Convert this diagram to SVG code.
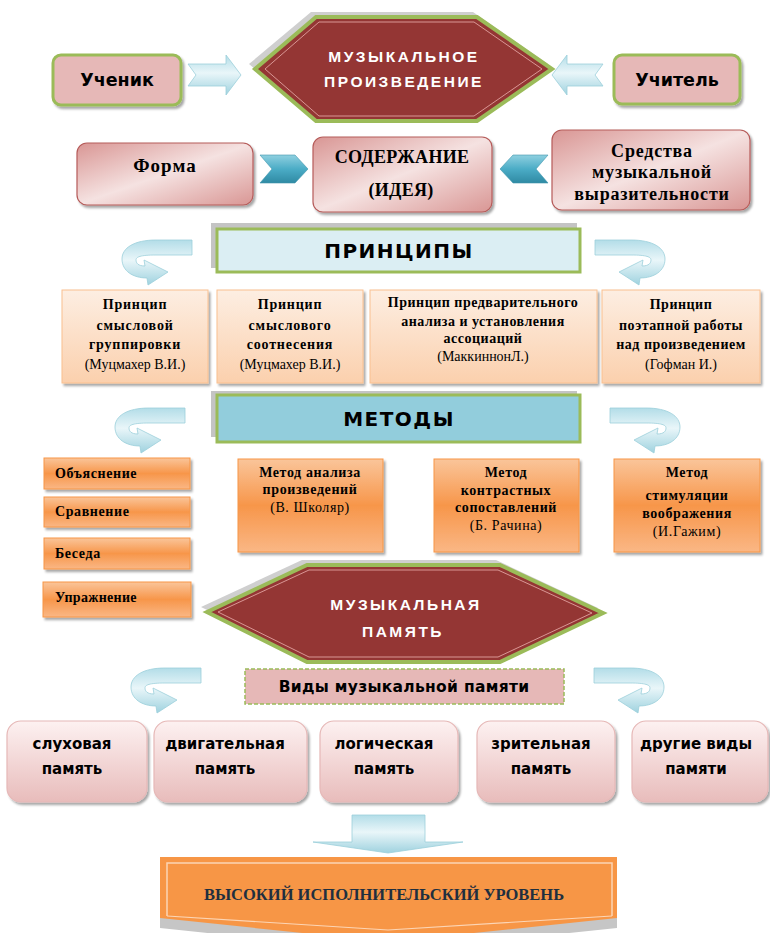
<svg xmlns="http://www.w3.org/2000/svg" width="770" height="933" viewBox="0 0 770 933">
<defs>
<style>
.sans{font-family:"DejaVu Sans","Liberation Sans",sans-serif;font-weight:bold;fill:#000}
.serif{font-family:"Liberation Serif","Times New Roman","DejaVu Serif",serif;fill:#000}
.b{font-weight:bold}
.mid{text-anchor:middle}
.hex{fill:#943634;stroke:#9bbb59;stroke-width:4;stroke-linejoin:miter}
.hexin{fill:none;stroke:#d99694;stroke-width:1}
.hexsh{fill:#cfcfcf}
.hextxt{font-family:"Liberation Sans","DejaVu Sans",sans-serif;font-weight:bold;font-size:15.5px;fill:#fff;letter-spacing:2.5px;text-anchor:middle}
.person{fill:#e6b8b7;stroke:#9bbb59;stroke-width:3}
.row2{fill:url(#gPink);stroke:#b65c5a;stroke-width:1.2}
.princ{fill:url(#gPeach);stroke:#fac090;stroke-width:1}
.meth{fill:url(#gOrange);stroke:#f79646;stroke-width:1}
.mem{fill:url(#gMem);stroke:#e6b8b7;stroke-width:1.2}
.carrow{fill:url(#gCurve);stroke:#9ccfdb;stroke-width:0.8}
.barrow{fill:url(#gCurve);stroke:#9ccfdb;stroke-width:0.8}
.chev{fill:url(#gTeal);stroke:#3f96ad;stroke-width:0.6}
</style>
<linearGradient id="gPink" x1="0" y1="0" x2="1" y2="1">
<stop offset="0" stop-color="#d99694"/><stop offset="0.5" stop-color="#f5e2e1"/><stop offset="1" stop-color="#d99694"/>
</linearGradient>
<linearGradient id="gPeach" x1="0" y1="0" x2="0" y2="1">
<stop offset="0" stop-color="#fdeee2"/><stop offset="1" stop-color="#fbd0ad"/>
</linearGradient>
<linearGradient id="gOrange" x1="0" y1="0" x2="0" y2="1">
<stop offset="0" stop-color="#fac59a"/><stop offset="0.5" stop-color="#f7964a"/><stop offset="1" stop-color="#fab785"/>
</linearGradient>
<linearGradient id="gMem" x1="0" y1="0" x2="0" y2="1">
<stop offset="0" stop-color="#fdf1f1"/><stop offset="1" stop-color="#e8bcbb"/>
</linearGradient>
<linearGradient id="gCurve" x1="0" y1="0" x2="0" y2="1">
<stop offset="0" stop-color="#b3dde8"/><stop offset="0.45" stop-color="#e9f6f9"/><stop offset="1" stop-color="#9fd2df"/>
</linearGradient>
<linearGradient id="gTeal" x1="0" y1="0" x2="0" y2="1">
<stop offset="0" stop-color="#8fd0e0"/><stop offset="0.5" stop-color="#4bacc6"/><stop offset="1" stop-color="#2f8aa3"/>
</linearGradient>
<filter id="sh" x="-10%" y="-10%" width="130%" height="140%">
<feDropShadow dx="2" dy="2.5" stdDeviation="1.3" flood-color="#000" flood-opacity="0.35"/>
</filter>
<path id="curve" d="M70,0 L34,0 C12,0 0,8 0,19 C0,31 11,38 25,38 L26,45 L46,32 L22,20 L23,26 C16,26 14,23 14,20 C14,17 18,15 34,15 L70,15 Z"/>
</defs>

<rect width="770" height="933" fill="#fff"/>

<g id="connectors">
<polygon class="barrow" points="188,64 226,64 226,55 241,75 226,95 226,86 188,86 196,75"/>
<polygon class="barrow" points="603,64 567,64 567,55 552,75 567,95 567,86 603,86 595,75"/>
<polygon class="chev" points="260,155 295,155 308,169 295,183 260,183 272,169"/>
<polygon class="chev" points="548,155 513,155 500,169 513,183 548,183 536,169"/>
<use href="#curve" class="carrow" transform="translate(122,240)"/>
<use href="#curve" class="carrow" transform="translate(665,240) scale(-1,1)"/>
<use href="#curve" class="carrow" transform="translate(115,408)"/>
<use href="#curve" class="carrow" transform="translate(680,408) scale(-1,1)"/>
<use href="#curve" class="carrow" transform="translate(131,668)"/>
<use href="#curve" class="carrow" transform="translate(664,668) scale(-1,1)"/>
<polygon class="barrow" points="352,815 425,815 425,842 463,842 388,853 313,842 352,842"/>
</g>

<g id="musical-work">
<polygon class="hexsh" points="249,64 311,12 473,12 548,64 473,117 311,117"/>
<polygon class="hex" points="255,69 316,17 477,17 552,69 477,121 316,121"/>
<polygon class="hexin" points="265,69 319,22 474,22 542,69 474,116 319,116"/>
<text class="hextxt" x="404" y="62">МУЗЫКАЛЬНОЕ</text>
<text class="hextxt" x="404" y="87">ПРОИЗВЕДЕНИЕ</text>
</g>

<g id="student">
<rect class="person" x="53" y="55" width="128" height="50" rx="8" filter="url(#sh)"/>
<text class="sans mid" x="117" y="86" font-size="17.5">Ученик</text>
</g>

<g id="teacher">
<rect class="person" x="614" y="55" width="126" height="49" rx="8" filter="url(#sh)"/>
<text class="sans mid" x="677" y="86" font-size="17.5">Учитель</text>
</g>

<g id="form">
<rect class="row2" x="77" y="143" width="176" height="62" rx="10" filter="url(#sh)"/>
<text class="serif b mid" font-family="Liberation Serif, serif" x="165" y="172" font-size="19" letter-spacing="1">Форма</text>
</g>

<g id="content">
<rect class="row2" x="313" y="137" width="179" height="75" rx="10" filter="url(#sh)"/>
<text class="serif b mid" x="402" y="163" font-size="18" letter-spacing="0.3">СОДЕРЖАНИЕ</text>
<text class="serif b mid" x="401" y="196" font-size="18" letter-spacing="0.3">(ИДЕЯ)</text>
</g>

<g id="means">
<rect class="row2" x="552" y="130" width="198" height="80" rx="10" filter="url(#sh)"/>
<text class="serif b mid" x="652" y="157" font-size="18" letter-spacing="0.8">Средства</text>
<text class="serif b mid" x="652" y="178" font-size="18" letter-spacing="0.8">музыкальной</text>
<text class="serif b mid" x="652" y="200" font-size="18" letter-spacing="0.8">выразительности</text>
</g>

<g id="principles">
<rect x="211" y="223" width="366" height="45" fill="#c4c4c4"/>
<rect x="217" y="229" width="363" height="43" fill="#dbeef3" stroke="#9bbb59" stroke-width="3"/>
<text class="sans mid" x="399" y="258" font-size="20" letter-spacing="1.5">ПРИНЦИПЫ</text>
</g>

<g id="principle-1">
<rect class="princ" x="62" y="290" width="146" height="93" filter="url(#sh)"/>
<text class="serif b mid" x="135" y="309" font-size="14" letter-spacing="0.8">Принцип</text>
<text class="serif b mid" x="135" y="330" font-size="14" letter-spacing="0.8">смысловой</text>
<text class="serif b mid" x="135" y="349" font-size="14" letter-spacing="0.8">группировки</text>
<text class="serif mid" x="135" y="369" font-size="14">(Муцмахер В.И.)</text>
</g>

<g id="principle-2">
<rect class="princ" x="217" y="290" width="146" height="93" filter="url(#sh)"/>
<text class="serif b mid" x="290" y="309" font-size="14" letter-spacing="0.8">Принцип</text>
<text class="serif b mid" x="290" y="330" font-size="14" letter-spacing="0.8">смыслового</text>
<text class="serif b mid" x="290" y="349" font-size="14" letter-spacing="0.8">соотнесения</text>
<text class="serif mid" x="290" y="369" font-size="14">(Муцмахер В.И.)</text>
</g>

<g id="principle-3">
<rect class="princ" x="370" y="290" width="227" height="93" filter="url(#sh)"/>
<text class="serif b mid" x="483" y="307" font-size="14" letter-spacing="0.5">Принцип предварительного</text>
<text class="serif b mid" x="483" y="326" font-size="14" letter-spacing="0.5">анализа и установления</text>
<text class="serif b mid" x="483" y="343" font-size="14" letter-spacing="0.5">ассоциаций</text>
<text class="serif mid" x="483" y="361" font-size="14">(МаккиннонЛ.)</text>
</g>

<g id="principle-4">
<rect class="princ" x="602" y="290" width="158" height="93" filter="url(#sh)"/>
<text class="serif b mid" x="681" y="309" font-size="14" letter-spacing="0.5">Принцип</text>
<text class="serif b mid" x="681" y="330" font-size="14" letter-spacing="0.5">поэтапной работы</text>
<text class="serif b mid" x="681" y="349" font-size="14" letter-spacing="0.5">над произведением</text>
<text class="serif mid" x="681" y="369" font-size="14">(Гофман И.)</text>
</g>

<g id="methods">
<rect x="211" y="391" width="366" height="46" fill="#c4c4c4"/>
<rect x="217" y="395" width="363" height="47" fill="#92cddc" stroke="#9bbb59" stroke-width="3"/>
<text class="sans mid" x="399" y="426" font-size="20" letter-spacing="1.5">МЕТОДЫ</text>
</g>

<g id="explanation">
<rect class="meth" x="44" y="458" width="146" height="31" filter="url(#sh)"/>
<text class="serif b" x="55" y="478" font-size="14" letter-spacing="0.6">Объяснение</text>
</g>
<g id="comparison">
<rect class="meth" x="44" y="497" width="146" height="30" filter="url(#sh)"/>
<text class="serif b" x="55" y="516" font-size="14" letter-spacing="0.6">Сравнение</text>
</g>
<g id="conversation">
<rect class="meth" x="44" y="538" width="146" height="31" filter="url(#sh)"/>
<text class="serif b" x="55" y="558" font-size="14" letter-spacing="0.6">Беседа</text>
</g>
<g id="exercise">
<rect class="meth" x="43" y="582" width="148" height="35" stroke="#953735" stroke-width="1.5" filter="url(#sh)"/>
<text class="serif b" x="55" y="602" font-size="14" letter-spacing="0.3">Упражнение</text>
</g>

<g id="method-analysis">
<rect class="meth" x="238" y="459" width="145" height="93" filter="url(#sh)"/>
<text class="serif b mid" x="310" y="477" font-size="14" letter-spacing="0.6">Метод анализа</text>
<text class="serif b mid" x="310" y="494" font-size="14" letter-spacing="0.6">произведений</text>
<text class="serif mid" x="310" y="512" font-size="14" letter-spacing="0.6">(В. Школяр)</text>
</g>

<g id="method-contrast">
<rect class="meth" x="434" y="459" width="145" height="93" filter="url(#sh)"/>
<text class="serif b mid" x="506" y="477" font-size="14" letter-spacing="0.6">Метод</text>
<text class="serif b mid" x="506" y="495" font-size="14" letter-spacing="0.6">контрастных</text>
<text class="serif b mid" x="506" y="512" font-size="14" letter-spacing="0.6">сопоставлений</text>
<text class="serif mid" x="506" y="530" font-size="14" letter-spacing="0.6">(Б. Рачина)</text>
</g>

<g id="method-imagination">
<rect class="meth" x="614" y="459" width="146" height="93" filter="url(#sh)"/>
<text class="serif b mid" x="687" y="477" font-size="14" letter-spacing="0.6">Метод</text>
<text class="serif b mid" x="687" y="500" font-size="14" letter-spacing="0.6">стимуляции</text>
<text class="serif b mid" x="687" y="518" font-size="14" letter-spacing="0.6">воображения</text>
<text class="serif mid" x="687" y="536" font-size="14" letter-spacing="0.6">(И.Гажим)</text>
</g>

<g id="musical-memory">
<polygon class="hexsh" points="201,607 302,560 496,560 598,608 496,657 302,657"/>
<polygon class="hex" points="207,612 307,565 500,565 603,613 500,662 307,662"/>
<polygon class="hexin" points="218,612 309,570 498,570 592,613 498,657 309,657"/>
<text class="hextxt" x="406" y="610">МУЗЫКАЛЬНАЯ</text>
<text class="hextxt" x="403" y="637">ПАМЯТЬ</text>
</g>

<g id="memory-types">
<rect x="245" y="669" width="319" height="35" fill="#e6b8b7" stroke="#9bbb59" stroke-width="1.5" stroke-dasharray="4 2"/>
<text class="sans mid" x="404" y="692" font-size="15.5" letter-spacing="0.3">Виды музыкальной памяти</text>
</g>

<g id="auditory">
<rect class="mem" x="7" y="721" width="140" height="81" rx="14" filter="url(#sh)"/>
<text class="sans mid" x="72" y="749" font-size="15">слуховая</text>
<text class="sans mid" x="72" y="774" font-size="15">память</text>
</g>
<g id="motor">
<rect class="mem" x="154" y="721" width="153" height="81" rx="14" filter="url(#sh)"/>
<text class="sans mid" x="225" y="749" font-size="15">двигательная</text>
<text class="sans mid" x="225" y="774" font-size="15">память</text>
</g>
<g id="logical">
<rect class="mem" x="320" y="721" width="138" height="81" rx="14" filter="url(#sh)"/>
<text class="sans mid" x="384" y="749" font-size="15">логическая</text>
<text class="sans mid" x="384" y="774" font-size="15">память</text>
</g>
<g id="visual">
<rect class="mem" x="477" y="721" width="138" height="81" rx="14" filter="url(#sh)"/>
<text class="sans mid" x="541" y="749" font-size="15">зрительная</text>
<text class="sans mid" x="541" y="774" font-size="15">память</text>
</g>
<g id="other">
<rect class="mem" x="632" y="721" width="136" height="81" rx="14" filter="url(#sh)"/>
<text class="sans mid" x="696" y="749" font-size="15">другие виды</text>
<text class="sans mid" x="696" y="774" font-size="15">памяти</text>
</g>

<g id="high-level">
<polygon points="160,865 617,865 617,928 388,952 160,928" fill="#c6c6c6"/>
<polygon points="160,857 617,857 617,918 388,942 160,918" fill="#f79646"/>
<polyline points="167,916 167,863 612,863 612,916" fill="none" stroke="#fcd5b5" stroke-width="1.5"/>
<polyline points="167,916 388,930 612,916" fill="none" stroke="#fcd5b5" stroke-width="1.2"/>
<text class="serif b mid" x="384" y="900" font-size="16.5" style="fill:#1f2f3f">ВЫСОКИЙ ИСПОЛНИТЕЛЬСКИЙ УРОВЕНЬ</text>
</g>
</svg>
